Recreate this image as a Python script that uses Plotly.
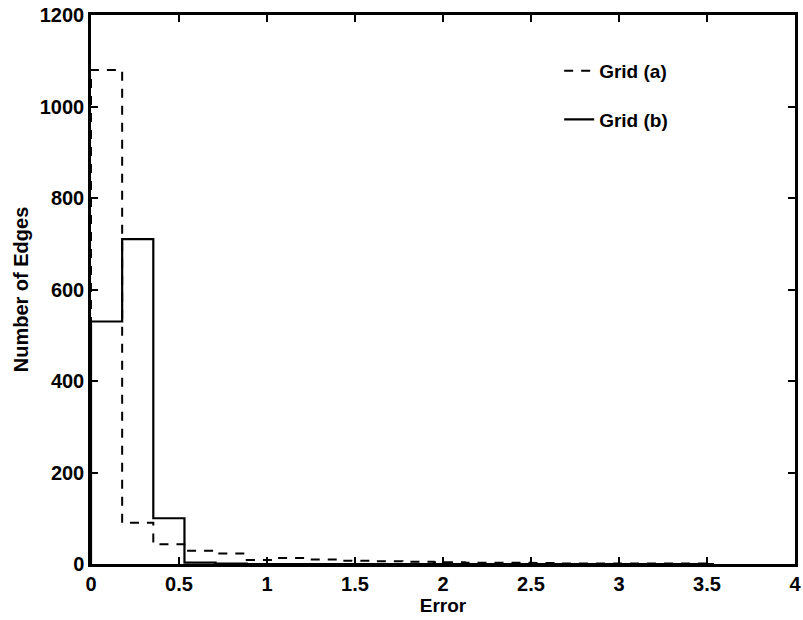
import plotly.graph_objects as go

bin_edges = [0.0, 0.177, 0.354, 0.531, 0.708, 0.885, 1.062, 1.239, 1.416, 1.593, 1.770,
             1.947, 2.124, 2.301, 2.478, 2.655, 2.832, 3.009, 3.186, 3.363, 3.540]
grid_a_counts = [1080, 90, 43, 29, 23, 9, 13, 10, 7, 6, 5, 4, 3, 3, 2, 1, 1, 0, 0, 1]
grid_b_counts = [530, 710, 100, 3, 1, 0, 0, 0, 0, 0, 0, 0, 0, 0, 0, 0, 0, 0, 0, 0]
x_ticks = [0, 0.5, 1, 1.5, 2, 2.5, 3, 3.5, 4]
x_tick_labels = ["0", "0.5", "1", "1.5", "2", "2.5", "3", "3.5", "4"]
y_ticks = [0, 200, 400, 600, 800, 1000, 1200]


def step_xy(edges, counts):
    xs = [edges[0]]
    ys = [0]
    for i, c in enumerate(counts):
        xs += [edges[i], edges[i + 1]]
        ys += [c, c]
    xs.append(edges[-1])
    ys.append(0)
    return xs, ys


xa, ya = step_xy(bin_edges, grid_a_counts)
xb, yb = step_xy(bin_edges, grid_b_counts)

font_family = "Liberation Sans, Arial, Helvetica, sans-serif"

fig = go.Figure()
fig.add_trace(go.Scatter(x=xa, y=ya, mode="lines", name="Grid (a)",
                         line=dict(color="black", width=2, dash="9px,8px"),
                         legendgroup="a"))
fig.add_trace(go.Scatter(x=xb, y=yb, mode="lines", name="Grid (b)",
                         line=dict(color="black", width=2.2),
                         legendgroup="b"))

axis_common = dict(showline=True, linecolor="black", linewidth=2.5, mirror="ticks",
                   ticks="inside", ticklen=7, tickwidth=2, tickcolor="black",
                   showgrid=False, zeroline=False, automargin=False,
                   tickfont=dict(family=font_family, size=20, color="black", weight="bold"))

fig.update_xaxes(range=[0, 4], tickvals=x_ticks, ticktext=x_tick_labels,
                 title=dict(text="Error", font=dict(family=font_family, size=19, color="black", weight="bold"),
                            standoff=0),
                 **axis_common)
fig.update_yaxes(range=[0, 1200], tickvals=y_ticks,
                 title=dict(text="Number of Edges", font=dict(family=font_family, size=20, color="black", weight="bold"),
                            standoff=6),
                 **axis_common)

fig.update_layout(
    width=803, height=620,
    margin=dict(l=91, r=8, t=15, b=56),
    plot_bgcolor="white", paper_bgcolor="white",
    showlegend=True,
    legend=dict(x=0.665, y=0.933, xanchor="left", yanchor="top",
                bgcolor="rgba(0,0,0,0)", borderwidth=0,
                tracegroupgap=21, itemwidth=30,
                font=dict(family=font_family, size=19, color="black", weight="bold")),
)

fig.write_html("out.html",
               config={"displayModeBar": False},
               post_script="document.body.style.margin='0';document.body.style.padding='0';")
